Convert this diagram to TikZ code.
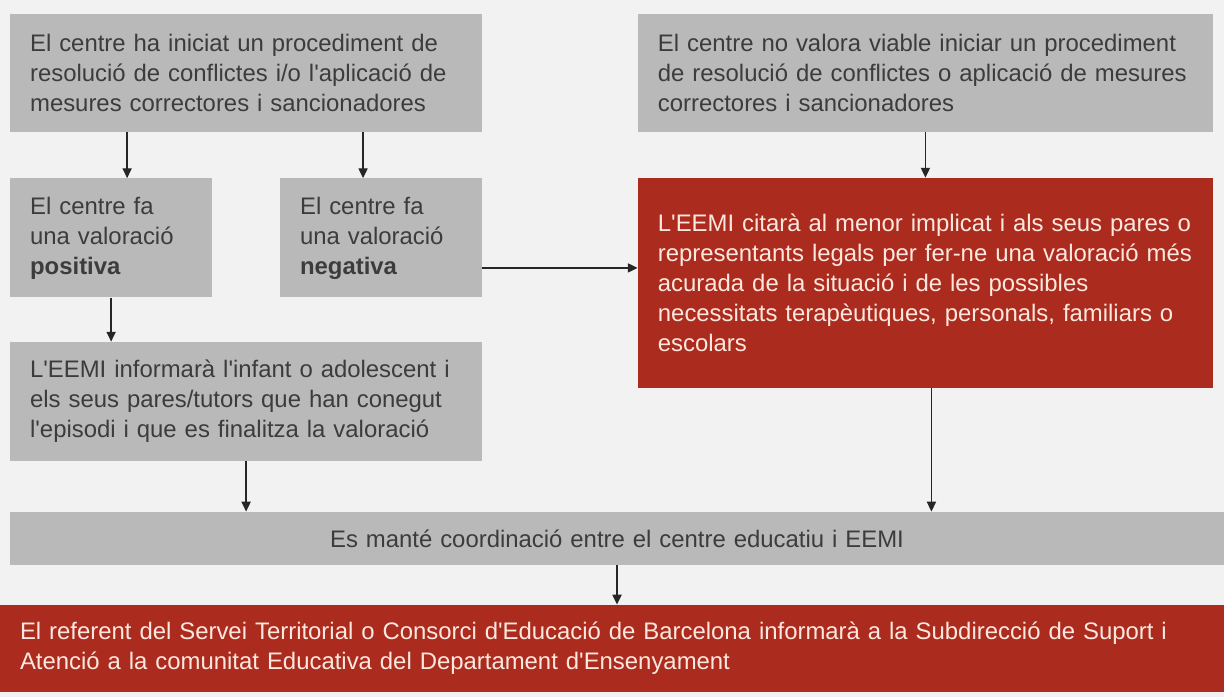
\documentclass[tikz,border=0pt]{standalone}
\usepackage{fontspec}
\setmainfont{Liberation Sans}[Ligatures=TeXOff]
\usepackage{tikz}
\usetikzlibrary{calc,arrows.meta}
\definecolor{bg}{HTML}{F2F2F2}
\definecolor{boxgray}{HTML}{B9B9B9}
\definecolor{boxtext}{HTML}{3C3C3C}
\definecolor{brick}{HTML}{AB2B1F}
\definecolor{paletext}{HTML}{FCE8DE}
\definecolor{arrowc}{HTML}{262626}
\tikzset{
  grayBox/.style 2 args={fill=boxgray, text=boxtext, align=left, inner xsep=0.5cm, inner ysep=0pt,
    text width=#1, minimum height=#2, font=\fontsize{17}{21.3}\selectfont},
  redBox/.style 2 args={fill=brick, text=paletext, align=left, inner xsep=0.5cm, inner ysep=0pt,
    text width=#1, minimum height=#2, font=\fontsize{17}{21.3}\selectfont},
  flow/.style={draw=arrowc, line width=0.95pt, -{Triangle[length=7pt,width=6.5pt]}},
}

\begin{document}
\begin{tikzpicture}[x=0.025cm, y=-0.025cm]
  \fill[bg] (0,0) rectangle (1224,697);

  % top row
  \node[grayBox={10.8cm}{2.95cm}] (start) at (246,73)
    {El centre ha iniciat un procediment de\\resolució de conflictes i/o l'aplicació de\\mesures correctores i sancionadores};
  \node[grayBox={13.375cm}{2.95cm}] (noproc) at (925.5,73)
    {El centre no valora viable iniciar un procediment\\de resolució de conflictes o aplicació de mesures\\correctores i sancionadores};

  % valoracions
  \node[grayBox={4.05cm}{2.975cm}] (pos) at (111,238)
    {El centre fa\\una valoració\\\textbf{positiva}};
  \node[grayBox={4.05cm}{2.975cm}] (neg) at (381,238)
    {El centre fa\\una valoració\\\textbf{negativa}};
  \node[redBox={13.375cm}{5.25cm}] (cita) at (925.5,283)
    {L'EEMI citarà al menor implicat i als seus pares o\\representants legals per fer-ne una valoració més\\acurada de la situació i de les possibles\\necessitats terapèutiques, personals, familiars o\\escolars};

  \node[grayBox={10.8cm}{2.975cm}] (info) at (246,401.5)
    {L'EEMI informarà l'infant o adolescent i\\els seus pares/tutors que han conegut\\l'episodi i que es finalitza la valoració};

  % bottom
  \node[grayBox={29.35cm}{1.325cm}, align=center] (coord) at (617,538.5)
    {Es manté coordinació entre el centre educatiu i EEMI};
  \node[redBox={29.6cm}{2.175cm}] (ref) at (612,648.5)
    {El referent del Servei Territorial o Consorci d'Educació de Barcelona informarà a la Subdirecció de Suport i\\Atenció a la comunitat Educativa del Departament d'Ensenyament};

  \draw[flow] ($(start.south)+(-119,0)$) -- ($(pos.north)+(16,0)$);
  \draw[flow] ($(start.south)+(117,0)$) -- ($(neg.north)+(-18,0)$);
  \draw[flow] (noproc.south) -- (cita.north);
  \draw[flow] ($(neg.east)+(0,30)$) -- ($(cita.west)+(0,-15)$);
  \draw[flow] (pos.south) -- (info.north -| pos.south);
  \draw[flow] (info.south) -- (coord.north -| info.south);
  \draw[flow] ($(cita.south)+(6,0)$) coordinate (cs) -- (coord.north -| cs);
  \draw[flow] (coord.south) -- (ref.north -| coord.south);
\end{tikzpicture}
\end{document}
